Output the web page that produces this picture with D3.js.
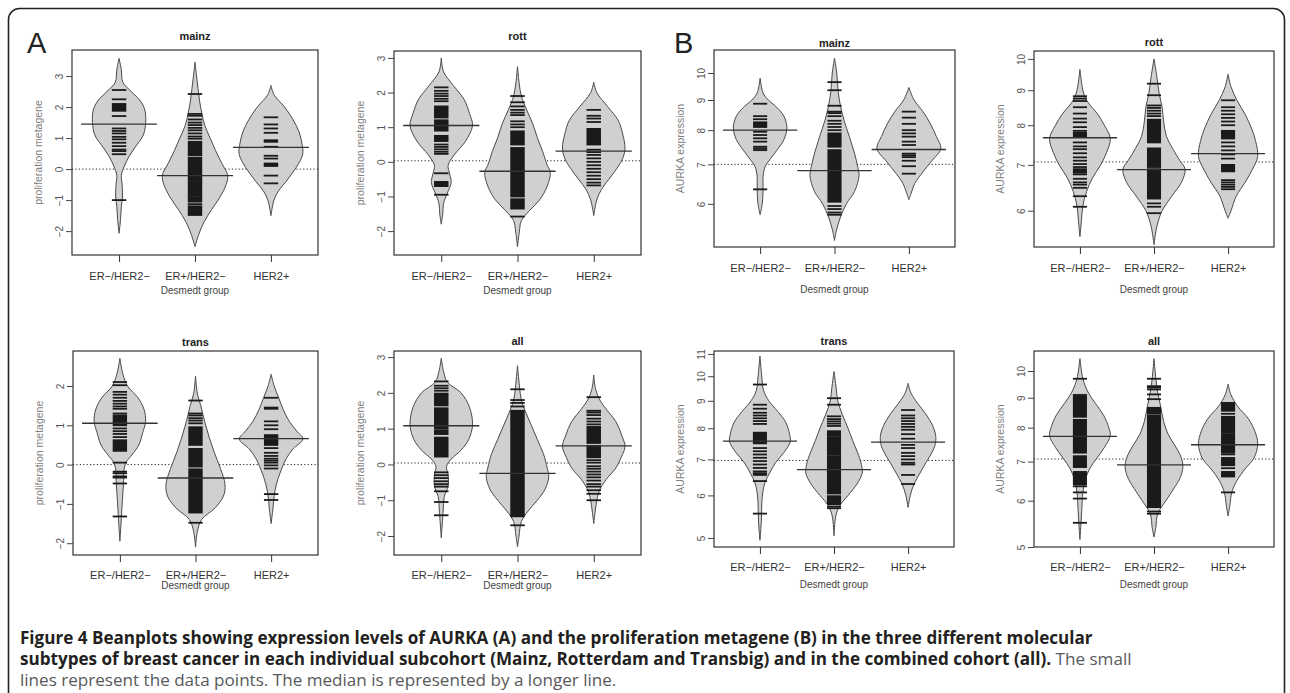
<!DOCTYPE html>
<html>
<head>
<meta charset="utf-8">
<script src="https://d3js.org/d3.v7.min.js"></script>
<style>
  body { margin: 0; background: #fff; }
  svg { display: block; }
</style>
</head>
<body>
<svg id="fig" width="1290" height="693" font-family="Liberation Sans, Arial, sans-serif"></svg>
<script>
// ---- data ----
const groups = ["ER\u2212/HER2\u2212", "ER+/HER2\u2212", "HER2+"];

// bean outlines: [value, half width in category units]
const shapeAMainz = [
  [[3.57,0],[3.2,0.03],[2.8,0.05],[2.5,0.16],[2.2,0.28],[1.9,0.34],[1.5,0.35],[1.1,0.32],[0.7,0.21],[0.4,0.13],[0.1,0.07],[-0.2,0.03],[-0.5,0.04],[-0.9,0.045],[-1.2,0.03],[-1.6,0.02],[-2.07,0]],
  [[3.45,0],[3.0,0.02],[2.6,0.04],[2.2,0.06],[1.8,0.09],[1.4,0.13],[1.0,0.2],[0.6,0.27],[0.2,0.35],[-0.2,0.43],[-0.5,0.41],[-0.9,0.33],[-1.3,0.22],[-1.7,0.12],[-2.1,0.05],[-2.5,0]],
  [[2.7,0],[2.4,0.04],[2.0,0.18],[1.6,0.29],[1.2,0.37],[0.8,0.41],[0.5,0.42],[0.2,0.37],[-0.1,0.29],[-0.4,0.2],[-0.7,0.1],[-1.0,0.04],[-1.5,0]]
];
const linesAMainz = [
  [2.55,2.25,1.71,1.31,1.23,1.15,1.04,0.96,0.85,0.74,0.63,0.58,0.48,-1.0],
  [2.42,1.78,1.72,1.6,1.5,1.42,1.33,1.25,1.15,1.05,0.98,-1.13,-1.2],
  [1.67,1.44,1.31,1.17,0.93,0.88,0.72,0.43,0.34,-0.21,-0.46]
];
const blocksAMainz = [
  [[1.88,2.1]],
  [[0.45,0.88],[-0.38,0.37],[-0.85,-0.42],[-1.05,-0.9],[-1.48,-1.25]],
  [[0.1,0.18]]
];
const medAMainz = [1.45, -0.21, 0.70];
const overallAMainz = 0.0;

const shapeARott = [
  [[3.0,0],[2.6,0.03],[2.2,0.16],[1.8,0.3],[1.4,0.37],[1.05,0.41],[0.6,0.32],[0.2,0.17],[-0.1,0.09],[-0.35,0.11],[-0.6,0.13],[-0.9,0.08],[-1.2,0.03],[-1.5,0.02],[-1.8,0]],
  [[2.75,0],[2.3,0.02],[1.9,0.05],[1.5,0.12],[1.1,0.2],[0.7,0.26],[0.3,0.33],[-0.1,0.39],[-0.3,0.43],[-0.7,0.39],[-1.1,0.29],[-1.4,0.16],[-1.7,0.05],[-2.0,0.025],[-2.45,0]],
  [[2.3,0],[2.0,0.04],[1.6,0.18],[1.2,0.32],[0.8,0.38],[0.4,0.41],[0.1,0.38],[-0.2,0.3],[-0.5,0.2],[-0.8,0.1],[-1.1,0.04],[-1.55,0]]
];
const linesARott = [
  [2.15,2.05,1.97,1.9,1.82,1.75,0.5,0.43,0.36,0.29,0.23,-0.33,-0.95],
  [1.9,1.72,1.6,1.5,1.42,1.35,1.17,1.08,1.0,-1.58],
  [1.5,1.33,1.25,1.15,0.35,0.28,0.2,0.1,0.0,-0.1,-0.2,-0.3,-0.4,-0.5,-0.6,-0.68]
];
const blocksARott = [
  [[1.28,1.6],[0.9,1.2],[0.6,0.75],[-0.7,-0.58]],
  [[0.5,0.88],[-1.0,0.4],[-1.35,-1.08]],
  [[0.5,0.95]]
];
const medARott = [1.05, -0.27, 0.31];
const overallARott = 0.03;

const shapeATrans = [
  [[2.7,0],[2.3,0.04],[2.0,0.1],[1.7,0.24],[1.4,0.32],[1.1,0.34],[0.8,0.3],[0.5,0.25],[0.25,0.16],[0.05,0.08],[-0.2,0.05],[-0.4,0.05],[-0.7,0.04],[-1.0,0.03],[-1.5,0.015],[-1.95,0]],
  [[2.25,0],[1.8,0.025],[1.5,0.07],[1.1,0.12],[0.7,0.18],[0.3,0.25],[-0.1,0.33],[-0.5,0.39],[-0.8,0.37],[-1.1,0.26],[-1.4,0.08],[-1.7,0.025],[-2.1,0]],
  [[2.3,0],[2.0,0.04],[1.7,0.1],[1.4,0.16],[1.1,0.24],[0.85,0.34],[0.65,0.42],[0.4,0.29],[0.15,0.2],[-0.15,0.13],[-0.5,0.07],[-0.8,0.04],[-1.1,0.025],[-1.5,0]]
];
const linesATrans = [
  [2.1,2.02,1.85,1.78,1.7,1.62,1.55,1.48,1.42,1.3,0.92,0.85,0.78,0.7,0.62,0.05,-0.18,-0.22,-0.3,-0.33,-0.48,-1.32],
  [1.63,1.3,1.25,1.18,1.12,1.05,-1.48],
  [1.7,1.45,1.42,1.1,1.0,0.9,0.42,0.3,0.22,0.15,0.1,0.05,-0.02,-0.1,-0.75,-0.9]
];
const blocksATrans = [
  [[1.0,1.25],[0.35,0.58]],
  [[0.5,0.95],[-0.05,0.4],[-1.22,-0.12]],
  [[0.5,0.75]]
];
const medATrans = [1.05, -0.34, 0.66];
const overallATrans = 0.0;

const shapeAAll = [
  [[2.97,0],[2.6,0.03],[2.3,0.08],[2.0,0.26],[1.6,0.37],[1.1,0.41],[0.7,0.36],[0.4,0.26],[0.15,0.13],[-0.05,0.07],[-0.3,0.09],[-0.6,0.09],[-0.9,0.04],[-1.3,0.025],[-2.05,0]],
  [[2.76,0],[2.2,0.025],[1.8,0.05],[1.5,0.1],[1.1,0.18],[0.7,0.26],[0.3,0.34],[-0.1,0.39],[-0.35,0.41],[-0.7,0.36],[-1.0,0.26],[-1.3,0.14],[-1.6,0.05],[-2.0,0.02],[-2.3,0]],
  [[2.5,0],[2.1,0.025],[1.8,0.08],[1.5,0.18],[1.2,0.29],[0.8,0.37],[0.5,0.41],[0.2,0.36],[-0.1,0.29],[-0.4,0.17],[-0.7,0.08],[-1.0,0.04],[-1.3,0.02],[-1.65,0]]
];
const linesAAll = [
  [2.32,2.2,2.13,2.06,-0.22,-0.3,-0.38,-0.47,-0.55,-0.62,-0.75,-1.05,-1.42],
  [2.1,1.8,1.72,1.62,-1.7],
  [1.88,1.5,1.45,1.38,1.28,1.2,1.12,0.12,0.05,-0.05,-0.12,-0.2,-0.28,-0.36,-0.45,-0.55,-0.62,-0.72,-0.82,-1.0]
];
const blocksAAll = [
  [[1.65,1.98],[1.0,1.57],[0.85,0.95],[0.22,0.75]],
  [[-1.45,1.5]],
  [[0.6,1.05],[0.2,0.52]]
];
const medAAll = [1.08, -0.25, 0.52];
const overallAAll = 0.04;

const shapeBMainz = [
  [[9.8,0],[9.25,0.04],[9.0,0.11],[8.78,0.21],[8.45,0.32],[8.07,0.36],[7.71,0.32],[7.41,0.23],[7.13,0.13],[6.95,0.07],[6.68,0.04],[6.34,0.04],[6.02,0.03],[5.75,0]],
  [[10.6,0],[10.0,0.03],[9.3,0.05],[8.8,0.08],[8.3,0.13],[7.8,0.2],[7.3,0.27],[6.95,0.31],[6.7,0.33],[6.3,0.27],[6.0,0.16],[5.7,0.08],[5.4,0.025],[5.2,0]],
  [[9.45,0],[9.0,0.07],[8.6,0.19],[8.2,0.29],[7.8,0.37],[7.45,0.43],[7.1,0.31],[6.8,0.19],[6.5,0.08],[6.25,0.03],[6.1,0]]
];
const linesBMainz = [
  [8.87,8.45,8.35,8.25,7.95,7.85,7.75,7.65,7.5,7.45,7.4,6.35],
  [9.65,9.35,8.8,8.6,8.55,8.45,8.3,8.2,8.1,8.0,5.95,5.88,5.8,5.75],
  [8.6,8.4,8.2,8.0,7.9,7.8,7.65,7.55,7.3,7.25,7.2,7.1,6.95,6.75]
];
const blocksBMainz = [
  [[8.1,8.2]],
  [[7.5,7.9],[6.05,7.4]],
  []
];
const medBMainz = [8.0, 6.83, 7.42];
const overallBMainz = 7.0;

const shapeBRott = [
  [[9.65,0],[9.0,0.04],[8.7,0.09],[8.3,0.24],[8.0,0.33],[7.65,0.41],[7.3,0.36],[7.0,0.28],[6.7,0.17],[6.4,0.09],[6.1,0.04],[5.8,0.02],[5.5,0]],
  [[10.0,0],[9.4,0.04],[8.9,0.07],[8.5,0.11],[8.1,0.13],[7.7,0.17],[7.4,0.25],[7.1,0.35],[6.9,0.42],[6.6,0.37],[6.3,0.24],[6.0,0.11],[5.7,0.04],[5.35,0]],
  [[9.5,0],[9.1,0.04],[8.7,0.12],[8.3,0.23],[7.9,0.32],[7.6,0.37],[7.2,0.4],[6.9,0.33],[6.6,0.23],[6.3,0.11],[6.0,0.04],[5.85,0]]
];
const linesBRott = [
  [8.82,8.75,8.68,8.5,8.32,8.18,8.08,7.95,7.85,7.55,7.45,7.38,7.28,7.18,7.1,7.02,6.95,6.78,6.68,6.6,6.55,6.48,6.3,6.08],
  [9.2,8.85,8.55,8.48,8.4,8.32,8.25,6.15,6.08,5.95],
  [8.7,8.5,8.4,8.3,8.2,8.1,8.0,7.55,7.45,7.35,7.25,7.15,6.65,6.6,6.55,6.5,6.45]
];
const blocksBRott = [
  [[7.7,7.8],[6.82,6.9]],
  [[7.55,8.15],[6.95,7.4],[6.25,6.9]],
  [[7.65,7.85],[6.85,7.0]]
];
const medBRott = [7.67, 6.89, 7.27];
const overallBRott = 7.07;

const shapeBTrans = [
  [[10.9,0],[10.0,0.025],[9.4,0.05],[9.0,0.12],[8.6,0.24],[8.2,0.35],[7.8,0.4],[7.55,0.41],[7.2,0.32],[6.9,0.21],[6.6,0.13],[6.35,0.07],[6.1,0.04],[5.8,0.025],[5.4,0.02],[4.95,0]],
  [[10.2,0],[9.5,0.03],[9.0,0.05],[8.5,0.11],[8.0,0.19],[7.6,0.25],[7.2,0.32],[6.85,0.37],[6.6,0.38],[6.3,0.31],[6.0,0.19],[5.75,0.08],[5.5,0.025],[5.05,0]],
  [[9.7,0],[9.3,0.04],[8.9,0.13],[8.5,0.24],[8.1,0.33],[7.8,0.37],[7.5,0.37],[7.2,0.32],[6.9,0.24],[6.6,0.16],[6.3,0.08],[6.0,0.03],[5.7,0]]
];
const linesBTrans = [
  [9.65,8.85,8.7,8.55,8.45,8.35,8.25,8.15,7.35,7.25,7.15,7.05,6.95,6.85,6.75,6.65,6.6,6.55,6.38,5.55],
  [9.1,8.85,8.42,8.32,8.24,8.16,8.08,5.72,5.68],
  [8.65,8.45,8.35,8.25,8.15,8.05,7.95,7.8,7.65,7.45,7.35,7.2,7.1,7.0,6.9,6.85,6.55,6.3]
];
const blocksBTrans = [
  [[7.5,7.85]],
  [[7.75,7.9],[7.15,7.7],[6.05,7.1],[5.78,5.98]],
  []
];
const medBTrans = [7.57, 6.7, 7.54];
const overallBTrans = 6.97;

const shapeBAll = [
  [[10.5,0],[9.7,0.04],[9.2,0.11],[8.8,0.21],[8.4,0.32],[8.0,0.39],[7.75,0.41],[7.4,0.33],[7.1,0.23],[6.8,0.13],[6.5,0.07],[6.2,0.04],[5.8,0.025],[5.5,0.015],[5.15,0]],
  [[10.5,0],[9.7,0.025],[9.2,0.05],[8.7,0.09],[8.2,0.13],[7.8,0.19],[7.5,0.27],[7.2,0.35],[6.9,0.39],[6.6,0.36],[6.3,0.27],[6.0,0.16],[5.7,0.05],[5.4,0.025],[5.2,0]],
  [[9.5,0],[9.1,0.04],[8.7,0.13],[8.3,0.27],[7.9,0.36],[7.5,0.4],[7.1,0.35],[6.8,0.23],[6.5,0.12],[6.2,0.05],[5.9,0.025],[5.65,0]]
];
const linesBAll = [
  [9.7,9.1,9.05,6.35,6.2,6.05,5.5],
  [9.7,9.42,9.37,9.3,9.12,8.95,5.75,5.7],
  [8.45,7.8,7.2,6.82,6.2]
];
const blocksBAll = [
  [[8.35,9.0],[7.25,8.25],[6.85,7.15],[6.4,6.72]],
  [[8.45,8.65],[5.85,8.38]],
  [[8.55,8.82],[7.85,8.35],[7.25,7.75],[6.9,7.1],[6.6,6.72]]
];
const medBAll = [7.73, 6.91, 7.48];
const overallBAll = 7.07;

const ticksA1 = [-2, -1, 0, 1, 2, 3];
const ticksA2 = [-2, -1, 0, 1, 2];
const ticksB1 = [6, 7, 8, 9, 10];
const ticksB2 = [5, 6, 7, 8, 9, 10, 11];
const ticksB3 = [5, 6, 7, 8, 9, 10];

// ---- layout ----
const panels = [
  {title: "mainz", box: [72, 50, 318, 255], log: false, dom: [-2.77, 3.84], ticks: ticksA1, ylab: "proliferation metagene", titleY: 36, labY: 276, xlabY: 290,
   shape: shapeAMainz, lines: linesAMainz, blocks: blocksAMainz, med: medAMainz, overall: overallAMainz},
  {title: "rott", box: [394, 51, 641, 255], log: false, dom: [-2.69, 3.2], ticks: ticksA1, ylab: "proliferation metagene", titleY: 36, labY: 276, xlabY: 290,
   shape: shapeARott, lines: linesARott, blocks: blocksARott, med: medARott, overall: overallARott},
  {title: "mainz", box: [714, 50, 955, 247], log: true, dom: [5.07, 10.94], ticks: ticksB1, ylab: "AURKA expression", titleY: 43, labY: 268, xlabY: 289,
   shape: shapeBMainz, lines: linesBMainz, blocks: blocksBMainz, med: medBMainz, overall: overallBMainz},
  {title: "rott", box: [1034, 51, 1274, 247], log: true, dom: [5.31, 10.27], ticks: ticksB1, ylab: "AURKA expression", titleY: 42, labY: 268, xlabY: 289,
   shape: shapeBRott, lines: linesBRott, blocks: blocksBRott, med: medBRott, overall: overallBRott},
  {title: "trans", box: [73, 351, 318, 555], log: false, dom: [-2.3, 2.89], ticks: ticksA2, ylab: "proliferation metagene", titleY: 342, labY: 575, xlabY: 585,
   shape: shapeATrans, lines: linesATrans, blocks: blocksATrans, med: medATrans, overall: overallATrans},
  {title: "all", box: [394, 351, 641, 555], log: false, dom: [-2.53, 3.17], ticks: ticksA1, ylab: "proliferation metagene", titleY: 341, labY: 575, xlabY: 585,
   shape: shapeAAll, lines: linesAAll, blocks: blocksAAll, med: medAAll, overall: overallAAll},
  {title: "trans", box: [714, 351, 954, 547], log: true, dom: [4.81, 11.14], ticks: ticksB2, ylab: "AURKA expression", titleY: 341, labY: 567, xlabY: 584,
   shape: shapeBTrans, lines: linesBTrans, blocks: blocksBTrans, med: medBTrans, overall: overallBTrans},
  {title: "all", box: [1034, 351, 1274, 547], log: true, dom: [5.0, 10.82], ticks: ticksB3, ylab: "AURKA expression", titleY: 341, labY: 567, xlabY: 584,
   shape: shapeBAll, lines: linesBAll, blocks: blocksBAll, med: medBAll, overall: overallBAll}
];

const svg = d3.select("#fig");

// outer frame
svg.append("rect").attr("x", 8.5).attr("y", 8.5).attr("width", 1276).attr("height", 720)
  .attr("rx", 11).attr("fill", "none").attr("stroke", "#222").attr("stroke-width", 1.6);

const lineHalf = 0.095;  // half length of a data line, in category units
const medHalf = 0.5;

function drawPanel(p) {
  const [x0, y0, x1, y1] = p.box;
  const x = d3.scaleLinear().domain([-0.62, 2.62]).range([x0, x1]);
  const y = (p.log ? d3.scaleLog() : d3.scaleLinear()).domain(p.dom).range([y1, y0]);
  const g = svg.append("g");

  // overall mean (dotted)
  g.append("line")
    .attr("x1", x0).attr("x2", x1)
    .attr("y1", y(p.overall)).attr("y2", y(p.overall))
    .attr("stroke", "#222").attr("stroke-width", 1).attr("stroke-dasharray", "1.2,2.2");

  // beans
  const area = i => d3.area().curve(d3.curveCatmullRom.alpha(0.5))
    .y(d => y(d[0])).x0(d => x(i - d[1])).x1(d => x(i + d[1]));
  g.selectAll(".bean").data(p.shape).join("path")
    .attr("class", "bean")
    .attr("d", (s, i) => area(i)(s.slice().sort((a, b) => a[0] - b[0])))
    .attr("fill", "#d0d0d0").attr("stroke", "#4a4a4a").attr("stroke-width", 1);

  // data lines
  p.lines.forEach((vals, i) => {
    g.selectAll(null).data(vals).join("line")
      .attr("x1", x(i - lineHalf)).attr("x2", x(i + lineHalf))
      .attr("y1", d => y(d)).attr("y2", d => y(d))
      .attr("stroke", "#1a1a1a").attr("stroke-width", 1.8);
  });
  // dense runs of data lines
  p.blocks.forEach((runs, i) => {
    g.selectAll(null).data(runs).join("rect")
      .attr("x", x(i - lineHalf)).attr("width", x(i + lineHalf) - x(i - lineHalf))
      .attr("y", d => y(d[1]) - 0.9).attr("height", d => y(d[0]) - y(d[1]) + 1.8)
      .attr("fill", "#1a1a1a");
  });

  // medians
  g.selectAll(null).data(p.med).join("line")
    .attr("x1", (d, i) => x(i - medHalf)).attr("x2", (d, i) => x(i + medHalf))
    .attr("y1", d => y(d)).attr("y2", d => y(d))
    .attr("stroke", "#333").attr("stroke-width", 1.4);

  // box
  g.append("rect").attr("x", x0).attr("y", y0).attr("width", x1 - x0).attr("height", y1 - y0)
    .attr("fill", "none").attr("stroke", "#333").attr("stroke-width", 1.2);

  // y axis
  const ya = g.append("g").attr("transform", `translate(${x0},0)`)
    .call(d3.axisLeft(y).tickValues(p.ticks).tickSize(6).tickFormat(d3.format("d")));
  ya.attr("font-family", null);
  ya.select(".domain").remove();
  ya.selectAll(".tick line").attr("stroke", "#444");
  ya.selectAll(".tick text")
    .attr("x", null).attr("dy", null)
    .attr("transform", "translate(-9,0) rotate(-90)")
    .attr("text-anchor", "middle")
    .attr("fill", "#555").attr("font-size", 10);

  // x axis
  const xa = g.append("g").attr("transform", `translate(0,${y1})`)
    .call(d3.axisBottom(x).tickValues([0, 1, 2]).tickSize(7).tickFormat(i => groups[i]));
  xa.attr("font-family", null);
  xa.select(".domain").remove();
  xa.selectAll(".tick line").attr("stroke", "#333");
  xa.selectAll(".tick text")
    .attr("y", p.labY - y1).attr("dy", "0.35em")
    .attr("fill", "#333").attr("font-size", 11);

  const cx = (x0 + x1) / 2;
  g.append("text").attr("x", cx).attr("y", p.titleY).attr("dy", "0.35em")
    .attr("text-anchor", "middle").attr("font-weight", "bold").attr("font-size", 11)
    .attr("fill", "#222").text(p.title);
  g.append("text").attr("x", cx).attr("y", p.xlabY).attr("dy", "0.35em")
    .attr("text-anchor", "middle").attr("font-size", 10).attr("fill", "#444")
    .text("Desmedt group");
  g.append("text")
    .attr("transform", `translate(${x0 - 34},${(y0 + y1) / 2}) rotate(-90)`)
    .attr("dy", "0.35em").attr("text-anchor", "middle")
    .attr("font-size", 10.5).attr("fill", "#808080").text(p.ylab);
}

panels.forEach(drawPanel);

// panel letters
svg.append("text").attr("x", 27).attr("y", 53).attr("font-size", 29).attr("fill", "#222").text("A");
svg.append("text").attr("x", 674).attr("y", 53).attr("font-size", 29).attr("fill", "#222").text("B");

// caption
const cap = svg.append("g").attr("font-family", "Open Sans, Noto Sans, sans-serif");
const l1 = cap.append("text").attr("x", 20).attr("y", 644).attr("font-weight", "bold").attr("fill", "#231f20")
  .text("Figure 4 Beanplots showing expression levels of AURKA (A) and the proliferation metagene (B) in the three different molecular");
const l2 = cap.append("text").attr("x", 20).attr("y", 665);
l2.append("tspan").attr("font-weight", "bold").attr("fill", "#231f20")
  .text("subtypes of breast cancer in each individual subcohort (Mainz, Rotterdam and Transbig) and in the combined cohort (all).");
l2.append("tspan").attr("fill", "#58595b").text(" The small");
const l3 = cap.append("text").attr("x", 20).attr("y", 686).attr("fill", "#58595b")
  .text("lines represent the data points. The median is represented by a longer line.");
// fit the caption size to the width of the first line
cap.attr("font-size", 16);
const w1 = l1.node().getComputedTextLength();
cap.attr("font-size", 16 * 1073 / w1);
</script>
</body>
</html>
